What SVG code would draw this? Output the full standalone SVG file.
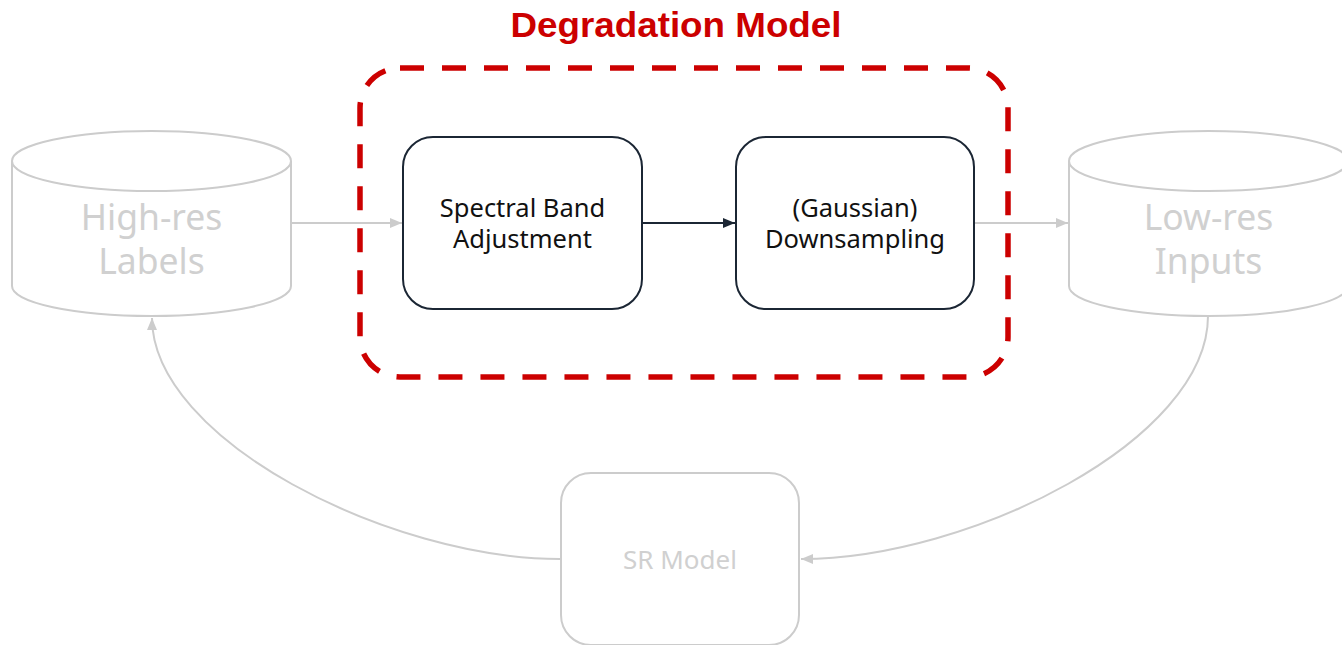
<svg xmlns="http://www.w3.org/2000/svg" width="1342" height="645" viewBox="0 0 1342 645">
  <defs>
    <marker id="arrow-grey" viewBox="0 0 12 10" refX="12" refY="5" markerWidth="12" markerHeight="10" markerUnits="userSpaceOnUse" orient="auto">
      <path d="M0,0 L12,5 L0,10 Z" fill="#cccccc"/>
    </marker>
    <marker id="arrow-dark" viewBox="0 0 12 10" refX="12" refY="5" markerWidth="12" markerHeight="10" markerUnits="userSpaceOnUse" orient="auto">
      <path d="M0,0 L12,5 L0,10 Z" fill="#1b2634"/>
    </marker>
  </defs>
  <style>
    .faded { fill: #ffffff; stroke: #cccccc; stroke-width: 2; }
    .faded-label { font-family: "Noto Sans", "Open Sans", sans-serif; fill: #d0d0d0; text-anchor: middle; }
    .step { fill: #ffffff; stroke: #1b2634; stroke-width: 2; }
    .step-label { font-family: "Noto Sans", "Open Sans", sans-serif; font-size: 25.5px; fill: #111111; text-anchor: middle; }
    .link-grey { fill: none; stroke: #cccccc; stroke-width: 2; marker-end: url(#arrow-grey); }
    .link-dark { fill: none; stroke: #1b2634; stroke-width: 2; marker-end: url(#arrow-dark); }
    .frame { fill: none; stroke: #cc0000; stroke-width: 5.5; stroke-dasharray: 24 18; }
  </style>

  <rect width="1342" height="645" fill="#ffffff"/>

  <!-- Degradation model frame and title -->
  <g id="degradation-model">
    <rect class="frame" x="360" y="68" width="648" height="309" rx="40" ry="40"/>
    <text x="676" y="37" font-family="'Liberation Sans', Arial, sans-serif" font-weight="bold" font-size="35" fill="#cc0000" text-anchor="middle" textLength="331" lengthAdjust="spacingAndGlyphs">Degradation Model</text>
  </g>

  <!-- Connectors -->
  <g id="connectors">
    <path class="link-grey" d="M292,223 L402,223"/>
    <path class="link-dark" d="M643,223 L735,223"/>
    <path class="link-grey" d="M975,223 L1068,223"/>
    <path class="link-grey" d="M1208,316 C1208,440 970,559 801,559"/>
    <path class="link-grey" d="M560,559 C390,559 152,440 152,318"/>
  </g>

  <!-- High-res labels store -->
  <g id="high-res-labels">
    <path class="faded" d="M12,161 L12,286 A139.5,30 0 0 0 291,286 L291,161"/>
    <ellipse class="faded" cx="151.5" cy="161" rx="139.5" ry="30"/>
    <text class="faded-label" font-size="35.5" x="151.5" y="230">High-res</text>
    <text class="faded-label" font-size="35.5" x="151.5" y="274">Labels</text>
  </g>

  <!-- Spectral band adjustment -->
  <g id="spectral-band-adjustment">
    <rect class="step" x="403" y="137" width="239" height="172" rx="30" ry="30"/>
    <text class="step-label" x="522.5" y="217">Spectral Band</text>
    <text class="step-label" x="522.5" y="248">Adjustment</text>
  </g>

  <!-- Gaussian downsampling -->
  <g id="gaussian-downsampling">
    <rect class="step" x="736" y="137" width="238" height="172" rx="30" ry="30"/>
    <text class="step-label" x="855" y="217">(Gaussian)</text>
    <text class="step-label" x="855" y="248">Downsampling</text>
  </g>

  <!-- Low-res inputs store -->
  <g id="low-res-inputs">
    <path class="faded" d="M1069,161 L1069,286 A139.5,30 0 0 0 1348,286 L1348,161"/>
    <ellipse class="faded" cx="1208.5" cy="161" rx="139.5" ry="30"/>
    <text class="faded-label" font-size="35.5" x="1208.5" y="230">Low-res</text>
    <text class="faded-label" font-size="35.5" x="1208.5" y="274">Inputs</text>
  </g>

  <!-- Super-resolution model -->
  <g id="sr-model">
    <rect class="faded" x="561" y="473" width="238" height="172" rx="30" ry="30"/>
    <text class="faded-label" font-size="26" x="680" y="569">SR Model</text>
  </g>
</svg>
